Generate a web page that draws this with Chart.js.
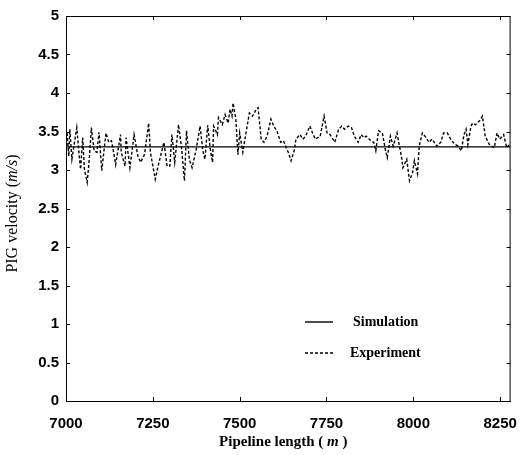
<!DOCTYPE html>
<html>
<head>
<meta charset="utf-8">
<script src="https://cdn.jsdelivr.net/npm/chart.js@4.4.1/dist/chart.umd.min.js"></script>
<style>
    html, body { margin: 0; background: #fff; }
</style>
</head>
<body>
<canvas id="pigChart" width="531" height="455"></canvas>
<script>
// Data
const xTickValues = [7000, 7250, 7500, 7750, 8000, 8250];
const yTickValues = [0, 0.5, 1, 1.5, 2, 2.5, 3, 3.5, 4, 4.5, 5];

const simX = [7000, 8280];
const simY = [3.3, 3.3];

const expX = [7003, 7008, 7011, 7017, 7031, 7039, 7042, 7048, 7053, 7061, 7067, 7073, 7081, 7089, 7095,
    7103, 7115, 7123, 7131, 7137, 7143, 7157, 7159, 7170, 7173, 7184, 7196, 7207, 7215, 7226, 7238, 7243,
    7257, 7263, 7282, 7291, 7299, 7305, 7313, 7324, 7333, 7341, 7347, 7355, 7363, 7375, 7386, 7394, 7400,
    7408, 7416, 7422, 7425, 7436, 7439, 7450, 7458, 7467, 7472, 7478, 7481, 7489, 7495, 7500, 7509, 7520,
    7528, 7537, 7548, 7553, 7562, 7570, 7579, 7590, 7598, 7607, 7618, 7626, 7634, 7640, 7648, 7657, 7662,
    7674, 7682, 7690, 7702, 7710, 7718, 7732, 7743, 7752, 7760, 7774, 7785, 7794, 7802, 7813, 7822, 7830,
    7841, 7850, 7858, 7864, 7878, 7886, 7892, 7900, 7911, 7920, 7925, 7934, 7942, 7953, 7961, 7967, 7970,
    7981, 7989, 7998, 8003, 8012, 8017, 8026, 8037, 8045, 8054, 8068, 8079, 8087, 8098, 8110, 8121, 8129,
    8138, 8146, 8152, 8157, 8166, 8171, 8179, 8191, 8199, 8207, 8219, 8233, 8241, 8249, 8260, 8269, 8277];
const expY = [3.48, 3.18, 3.53, 3.14, 3.55, 3.14, 3.01, 3.42, 3.01, 2.84, 3.14, 3.55, 3.25, 3.23, 3.49,
    2.99, 3.48, 3.36, 3.38, 3.23, 3.07, 3.46, 3.23, 3.05, 3.42, 3.03, 3.46, 3.18, 3.10, 3.20, 3.61, 3.23,
    2.88, 3.01, 3.36, 3.05, 3.05, 3.46, 3.10, 3.59, 3.27, 2.86, 3.51, 3.14, 3.03, 3.27, 3.57, 3.25, 3.14,
    3.58, 3.25, 3.10, 3.57, 3.46, 3.68, 3.59, 3.72, 3.61, 3.79, 3.70, 3.87, 3.66, 3.20, 3.48, 3.23, 3.53,
    3.74, 3.70, 3.79, 3.81, 3.40, 3.36, 3.44, 3.66, 3.57, 3.51, 3.36, 3.38, 3.29, 3.23, 3.12, 3.25, 3.40,
    3.46, 3.40, 3.44, 3.57, 3.48, 3.40, 3.44, 3.70, 3.48, 3.46, 3.36, 3.53, 3.57, 3.53, 3.57, 3.55, 3.44,
    3.36, 3.46, 3.42, 3.44, 3.38, 3.36, 3.25, 3.51, 3.48, 3.25, 3.16, 3.44, 3.31, 3.48, 3.29, 3.14, 3.03,
    3.14, 2.86, 2.97, 3.12, 2.95, 3.31, 3.48, 3.42, 3.36, 3.40, 3.31, 3.36, 3.48, 3.48, 3.38, 3.33, 3.31,
    3.25, 3.46, 3.53, 3.33, 3.57, 3.61, 3.59, 3.64, 3.70, 3.44, 3.33, 3.29, 3.48, 3.40, 3.46, 3.29, 3.33];

const serif = '"Liberation Serif", "Times New Roman", serif';
const sans = '"Liberation Sans", Arial, sans-serif';

// draws text pieces with different fonts one after another, centred on x
function drawPieces(ctx, pieces, cx, cy) {
    let total = 0;
    pieces.forEach((p) => { ctx.font = p.font; total += ctx.measureText(p.text).width; });
    let x = cx - total / 2;
    pieces.forEach((p) => {
        ctx.font = p.font;
        ctx.fillText(p.text, x, cy);
        x += ctx.measureText(p.text).width;
    });
}

// box, inner ticks, axis titles and the legend
const framePlugin = {
    id: 'frame',
    afterDatasetsDraw(chart) {
        const { ctx, chartArea: a, scales } = chart;
        ctx.save();
        ctx.strokeStyle = '#000';
        ctx.lineWidth = 1;
        ctx.strokeRect(a.left + 0.5, a.top + 0.5, a.right - a.left - 1, a.bottom - a.top);

        ctx.beginPath();
        xTickValues.forEach((v) => {
            const px = Math.round(scales.x.getPixelForValue(v)) + 0.5;
            ctx.moveTo(px, a.bottom); ctx.lineTo(px, a.bottom - 4);
            ctx.moveTo(px, a.top); ctx.lineTo(px, a.top + 4);
        });
        yTickValues.forEach((v) => {
            const py = Math.round(scales.y.getPixelForValue(v)) + 0.5;
            ctx.moveTo(a.left, py); ctx.lineTo(a.left + 4, py);
            ctx.moveTo(a.right, py); ctx.lineTo(a.right - 4, py);
        });
        ctx.stroke();

        // legend
        const lx = a.left + 239;
        const ly = [322, 353];
        chart.data.datasets.forEach((ds, i) => {
            ctx.beginPath();
            ctx.setLineDash(ds.borderDash || []);
            ctx.lineWidth = ds.borderWidth;
            ctx.moveTo(lx, ly[i]);
            ctx.lineTo(lx + 28, ly[i]);
            ctx.stroke();
            ctx.setLineDash([]);
            ctx.fillStyle = '#000';
            ctx.font = 'bold 14px ' + serif;
            ctx.textBaseline = 'middle';
            ctx.textAlign = 'left';
            ctx.fillText(ds.label, lx + 48 - i * 3, ly[i]);
        });

        // axis titles
        ctx.fillStyle = '#000';
        ctx.textBaseline = 'middle';
        ctx.textAlign = 'left';
        drawPieces(ctx, [
            { text: 'Pipeline length ( ', font: 'bold 15px ' + serif },
            { text: 'm', font: 'italic bold 15px ' + serif },
            { text: ' )', font: 'bold 15px ' + serif },
        ], (a.left + a.right) / 2 - 5, 442);

        ctx.translate(13, (a.top + a.bottom) / 2 + 5);
        ctx.rotate(-Math.PI / 2);
        drawPieces(ctx, [
            { text: 'PIG velocity (', font: '16px ' + serif },
            { text: 'm/s', font: 'italic 16px ' + serif },
            { text: ')', font: '16px ' + serif },
        ], 0, 0);
        ctx.restore();
    },
};

const ctx = document.getElementById('pigChart').getContext('2d');

const chart = new Chart(ctx, {
    type: 'line',
    data: {
        datasets: [{
            label: 'Simulation',
            data: simX.map((x, i) => ({ x, y: simY[i] })),
            borderColor: '#000',
            borderWidth: 1.4,
            pointRadius: 0,
        }, {
            label: 'Experiment',
            data: expX.map((x, i) => ({ x, y: expY[i] })),
            borderColor: '#000',
            borderWidth: 1.4,
            borderDash: [3, 2],
            pointRadius: 0,
        }],
    },
    options: {
        responsive: false,
        animation: false,
        layout: { padding: { top: 15, right: 7, left: 0, bottom: 0 } },
        plugins: {
            legend: { display: false },
            tooltip: { enabled: false },
        },
        scales: {
            x: {
                type: 'linear',
                min: 7000,
                max: 8280,
                afterBuildTicks: (s) => { s.ticks = xTickValues.map((v) => ({ value: v })); },
                afterFit: (s) => { s.height = 54; },
                ticks: {
                    color: '#000',
                    font: { family: sans, weight: 'bold', size: 15 },
                    padding: 14,
                    maxRotation: 0,
                    autoSkip: false,
                    callback: (v) => String(v),
                },
                grid: { display: false, drawTicks: false },
                border: { color: '#000' },
            },
            y: {
                min: 0,
                max: 5,
                afterBuildTicks: (s) => { s.ticks = yTickValues.map((v) => ({ value: v })); },
                afterFit: (s) => { s.width = 66; },
                ticks: {
                    color: '#000',
                    font: { family: sans, weight: 'bold', size: 15 },
                    padding: 7,
                    callback: (v) => String(Math.round(v * 10) / 10),
                },
                grid: { display: false, drawTicks: false },
                border: { color: '#000' },
            },
        },
    },
    plugins: [framePlugin],
});
</script>
</body>
</html>
